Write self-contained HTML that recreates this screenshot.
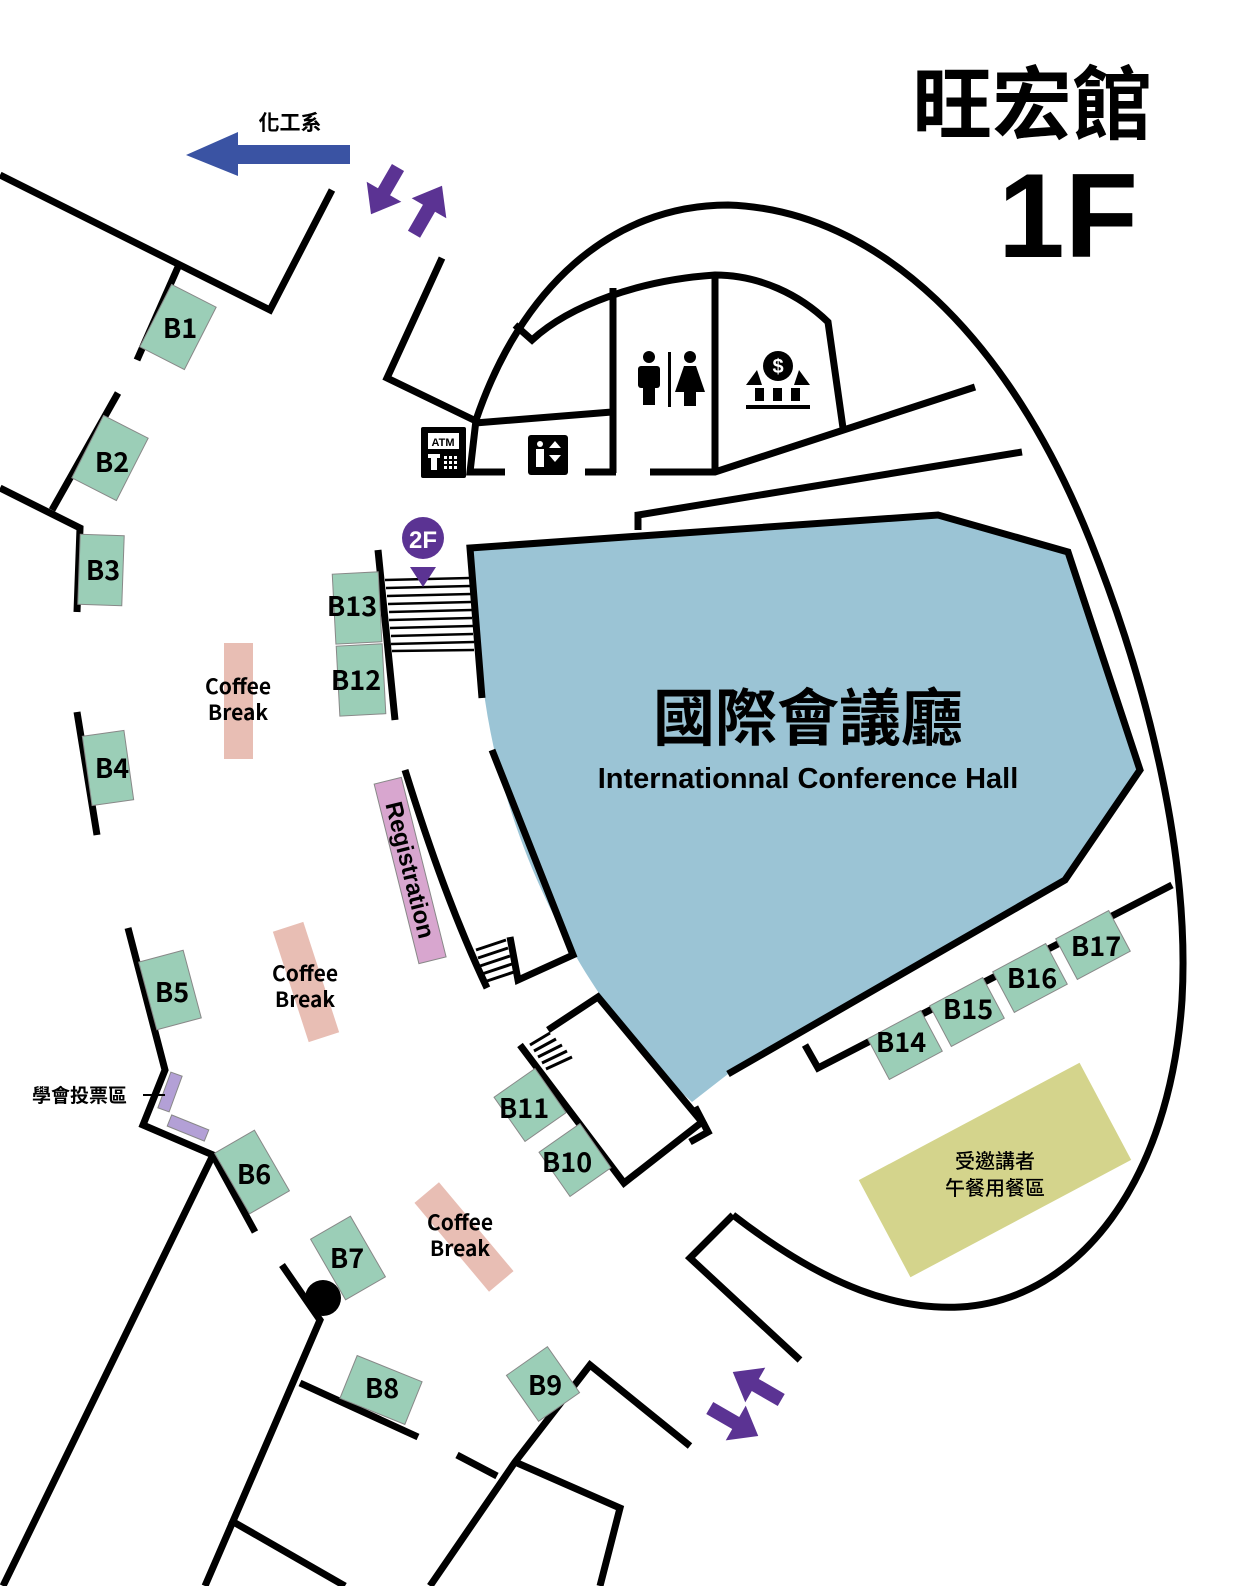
<!DOCTYPE html>
<html><head><meta charset="utf-8"><style>
html,body{margin:0;padding:0;background:#fff}
svg{display:block}
text{font-family:"Liberation Sans","Noto Sans CJK TC",sans-serif}
.w{fill:none;stroke:#000;stroke-width:7;stroke-linejoin:miter}
.b{fill:#9bceb7;stroke:#888;stroke-width:1}
.bl{font-size:27px;fill:#000;text-anchor:middle;font-family:"Noto Sans CJK TC","Liberation Sans",sans-serif;font-weight:bold}
.cf{fill:#e8beb4}
.ct{font-size:21px;text-anchor:middle;font-family:"Noto Sans CJK TC","Liberation Sans",sans-serif;font-weight:bold}
</style></head><body>
<svg width="1242" height="1586" viewBox="0 0 1242 1586" xmlns="http://www.w3.org/2000/svg">
<path d="M470,548 L938,515 L1068,552 L1140,770 L1065,880 L728,1074 L692,1102 C600,1020 510,870 485,700 Z" fill="#9bc4d5"/>
<path class="w" d="M733,1215 C830,1290 900,1310 960,1307 C1080,1300 1170,1180 1182,1000 C1190,860 1150,690 1090,540 C1010,340 880,210 728,205 C610,205 520,290 476,420 L470,472 L505,472"/>
<path class="w" d="M515,325 L532,340 C570,305 640,280 715,275 C760,275 800,295 828,322 L843,428"/>
<path class="w" d="M613,288 L613,473 M715,275 L715,470 M475,423 L612,412 M585,472 L616,472 M650,472 L715,472 L975,387 M638,530 L638,515 L1022,452"/>
<path class="w" d="M482,698 L470,548 L938,515 L1068,552 L1140,770 L1065,880 L728,1074"/>
<path class="w" d="M492,750 L573,955 L518,980 L510,937"/>
<path class="w" d="M405,770 C430,850 455,920 487,988"/>
<path class="w" d="M805,1045 L818,1068 L1172,885"/>
<path class="w" d="M548,1030 L598,997 L702,1122 L624,1183 L520,1045"/>
<path class="w" d="M695,1107 L708,1132 L690,1142"/>
<g stroke="#000" stroke-width="3"><line x1="476" y1="950" x2="506" y2="940"/><line x1="478" y1="958" x2="508" y2="948"/><line x1="480" y1="966" x2="510" y2="956"/><line x1="482" y1="974" x2="512" y2="964"/><line x1="484" y1="982" x2="514" y2="972"/>
<line x1="530" y1="1045" x2="550" y2="1033"/><line x1="534" y1="1051" x2="556" y2="1039"/><line x1="538" y1="1057" x2="562" y2="1045"/><line x1="542" y1="1063" x2="567" y2="1051"/><line x1="546" y1="1069" x2="572" y2="1057"/></g>
<path class="w" d="M378,550 L395,720"/>
<g stroke="#000" stroke-width="2.5"><line x1="385" y1="580" x2="470" y2="578"/><line x1="386" y1="588" x2="470" y2="586"/><line x1="387" y1="596" x2="471" y2="594"/><line x1="388" y1="604" x2="471" y2="602"/><line x1="389" y1="612" x2="472" y2="610"/><line x1="389" y1="620" x2="472" y2="618"/><line x1="390" y1="628" x2="473" y2="626"/><line x1="391" y1="636" x2="473" y2="634"/><line x1="391" y1="644" x2="474" y2="642"/><line x1="392" y1="651" x2="474" y2="650"/></g>
<path class="w" d="M0,175 L270,310 L332,190"/>
<path class="w" d="M178,267 L137,360"/>
<path class="w" d="M118,393 L52,510"/>
<path class="w" d="M0,488 L80,528 L77,612"/>
<path class="w" d="M77,712 L97,835"/>
<path class="w" d="M128,928 L165,1070 L143,1125 L213,1155 L255,1232"/>
<path class="w" d="M213,1155 L3,1586"/>
<path class="w" d="M282,1265 L320,1320 L205,1586"/>
<path class="w" d="M300,1383 L418,1437"/>
<path class="w" d="M230,1520 L345,1586"/>
<path class="w" d="M457,1455 L497,1476"/>
<path class="w" d="M430,1586 L515,1462 L590,1365 L690,1446"/>
<path class="w" d="M515,1462 L620,1508 L600,1586"/>
<path class="w" d="M442,258 L387,378 L478,422"/>
<path class="w" d="M733,1215 L690,1258 L800,1360"/>
<circle cx="323" cy="1298" r="18"/>
<g transform="rotate(27 178 327)"><rect class="b" x="153" y="292" width="50" height="70"/></g><text class="bl" x="180" y="338">B1</text>
<g transform="rotate(27 110 458)"><rect class="b" x="85" y="423" width="50" height="70"/></g><text class="bl" x="112" y="472">B2</text>
<g transform="rotate(2 101 570)"><rect class="b" x="79" y="535" width="44" height="70"/></g><text class="bl" x="103" y="580">B3</text>
<g transform="rotate(-8 108 768)"><rect class="b" x="87" y="733" width="42" height="70"/></g><text class="bl" x="112" y="778">B4</text>
<g transform="rotate(-15 170 990)"><rect class="b" x="147" y="955" width="46" height="70"/></g><text class="bl" x="172" y="1002">B5</text>
<g transform="rotate(-30 252 1172)"><rect class="b" x="229" y="1137" width="46" height="70"/></g><text class="bl" x="254" y="1184">B6</text>
<g transform="rotate(-30 348 1258)"><rect class="b" x="325" y="1223" width="46" height="70"/></g><text class="bl" x="347" y="1268">B7</text>
<g transform="rotate(22 381 1390)"><rect class="b" x="346" y="1367" width="70" height="46"/></g><text class="bl" x="382" y="1398">B8</text>
<g transform="rotate(-35 543 1384)"><rect class="b" x="518" y="1356" width="50" height="56"/></g><text class="bl" x="545" y="1395">B9</text>
<g transform="rotate(-35 575 1160)"><rect class="b" x="550" y="1133" width="50" height="54"/></g><text class="bl" x="567" y="1172">B10</text>
<g transform="rotate(-35 530 1105)"><rect class="b" x="505" y="1078" width="50" height="54"/></g><text class="bl" x="524" y="1118">B11</text>
<g transform="rotate(-3 360 680)"><rect class="b" x="338" y="645" width="46" height="70"/></g><text class="bl" x="356" y="690">B12</text>
<g transform="rotate(-3 356 607)"><rect class="b" x="334" y="573" width="46" height="70"/></g><text class="bl" x="352" y="616">B13</text>
<g transform="rotate(-28 905 1045)"><rect class="b" x="875" y="1022" width="60" height="46"/></g><text class="bl" x="901" y="1052">B14</text>
<g transform="rotate(-28 967 1012)"><rect class="b" x="937" y="989" width="60" height="46"/></g><text class="bl" x="968" y="1019">B15</text>
<g transform="rotate(-28 1030 978)"><rect class="b" x="1000" y="955" width="60" height="46"/></g><text class="bl" x="1032" y="988">B16</text>
<g transform="rotate(-28 1093 945)"><rect class="b" x="1063" y="922" width="60" height="46"/></g><text class="bl" x="1096" y="956">B17</text>
<rect class="cf" x="224" y="643" width="29" height="116"/>
<g transform="rotate(-18 306 982)"><rect class="cf" x="290" y="924" width="32" height="116"/></g>
<g transform="rotate(-40 464 1237)"><rect class="cf" x="448" y="1179" width="32" height="116"/></g>
<text class="ct" x="238" y="694">Coffee</text><text class="ct" x="238" y="720">Break</text>
<text class="ct" x="305" y="981">Coffee</text><text class="ct" x="305" y="1007">Break</text>
<text class="ct" x="460" y="1230">Coffee</text><text class="ct" x="460" y="1256">Break</text>
<g transform="rotate(-14 410 870)"><rect x="396" y="778" width="28" height="185" fill="#d8a6cf" stroke="#888"/><text x="410" y="870" transform="rotate(90 410 870)" font-size="24" font-weight="bold" text-anchor="middle" dy="8" font-family="Liberation Sans,sans-serif">Registration</text></g>
<g transform="rotate(-28 995 1170)"><rect x="870" y="1115" width="250" height="110" fill="#d4d48c"/></g>
<text x="995" y="1168" font-size="20" text-anchor="middle" font-family="Noto Sans CJK TC,sans-serif" font-weight="500">受邀講者</text>
<text x="995" y="1195" font-size="20" text-anchor="middle" font-family="Noto Sans CJK TC,sans-serif" font-weight="500">午餐用餐區</text>
<g transform="rotate(20 170 1092)"><rect x="164" y="1073" width="12" height="38" fill="#b3a0d6" stroke="#888"/></g>
<g transform="rotate(22 188 1128)"><rect x="168" y="1122" width="40" height="12" fill="#b3a0d6" stroke="#888"/></g>
<text x="32" y="1102" font-size="19" font-family="Noto Sans CJK TC,sans-serif" font-weight="bold">學會投票區</text>
<line x1="143" y1="1095" x2="165" y2="1095" stroke="#000" stroke-width="2"/>
<text x="808" y="740" font-size="62" font-weight="bold" text-anchor="middle" font-family="Noto Sans CJK TC,sans-serif">國際會議廳</text>
<text x="808" y="788" font-size="29" text-anchor="middle" font-family="Noto Sans CJK TC,Liberation Sans,sans-serif" font-weight="bold">Internationnal Conference Hall</text>
<text x="1032" y="133" font-size="80" font-weight="bold" text-anchor="middle" font-family="Noto Sans CJK TC,sans-serif">旺宏館</text>
<text x="1068" y="257" font-size="120" font-weight="bold" text-anchor="middle" font-family="Liberation Sans,sans-serif">1F</text>
<path d="M186,155 L238,132 L238,145 L350,145 L350,164 L238,164 L238,176 Z" fill="#3a53a3"/>
<text x="290" y="130" font-size="21" text-anchor="middle" font-weight="bold" font-family="Noto Sans CJK TC,sans-serif">化工系</text>
<g fill="#5b3393">
<g transform="translate(385,190) rotate(120)"><path d="M-26,-7 L2,-7 L2,-20 L28,0 L2,20 L2,7 L-26,7 Z"/></g>
<g transform="translate(428,210) rotate(-60)"><path d="M-28,-7 L2,-7 L2,-20 L28,0 L2,20 L2,7 L-28,7 Z"/></g>
<g transform="translate(757,1386) rotate(210)"><path d="M-28,-7 L2,-7 L2,-20 L28,0 L2,20 L2,7 L-28,7 Z"/></g>
<g transform="translate(734,1422) rotate(30)"><path d="M-28,-7 L2,-7 L2,-20 L28,0 L2,20 L2,7 L-28,7 Z"/></g>
<circle cx="423" cy="538" r="21"/>
<path d="M410,567 L436,567 L423,587 Z"/>
</g>
<text x="423" y="548" font-size="24" fill="#fff" text-anchor="middle" font-weight="bold" font-family="Liberation Sans,sans-serif">2F</text>
<rect x="421" y="427" width="45" height="51" rx="2" fill="#000"/>
<rect x="428" y="433" width="31" height="16" fill="#fff"/>
<text x="443" y="446" font-size="11" font-weight="bold" text-anchor="middle" font-family="Liberation Sans,sans-serif">ATM</text>
<rect x="428" y="454" width="12" height="4" fill="#fff"/><rect x="431" y="458" width="6" height="12" fill="#fff"/>
<g fill="#fff"><rect x="444" y="456" width="3" height="3"/><rect x="449" y="456" width="3" height="3"/><rect x="454" y="456" width="3" height="3"/><rect x="444" y="461" width="3" height="3"/><rect x="449" y="461" width="3" height="3"/><rect x="454" y="461" width="3" height="3"/><rect x="444" y="466" width="3" height="3"/><rect x="449" y="466" width="3" height="3"/><rect x="454" y="466" width="3" height="3"/></g>
<rect x="528" y="435" width="40" height="40" rx="3" fill="#000"/>
<circle cx="540" cy="444" r="3" fill="#fff"/><rect x="536" y="449" width="8" height="18" fill="#fff"/>
<path d="M549,448 L555,441 L561,448 Z M549,455 L561,455 L555,462 Z" fill="#fff"/>
<g fill="#000">
<circle cx="649" cy="357" r="6"/><rect x="638" y="366" width="22" height="22" rx="3"/><rect x="643" y="385" width="12" height="20"/>
<rect x="668" y="352" width="3" height="55"/>
<circle cx="690" cy="357" r="6"/><path d="M684,366 L696,366 L705,392 L675,392 Z"/><rect x="684" y="390" width="12" height="16"/>
<circle cx="778" cy="366" r="15"/>
<path d="M746,385 L757,370 L762,385 Z M794,385 L799,370 L810,385 Z"/>
<rect x="755" y="388" width="9" height="13"/><rect x="773" y="388" width="9" height="13"/><rect x="791" y="388" width="9" height="13"/>
<rect x="746" y="405" width="64" height="4"/>
</g>
<text x="778" y="373" font-size="20" fill="#fff" font-weight="bold" text-anchor="middle" font-family="Liberation Sans,sans-serif">$</text>
</svg>
</body></html>
